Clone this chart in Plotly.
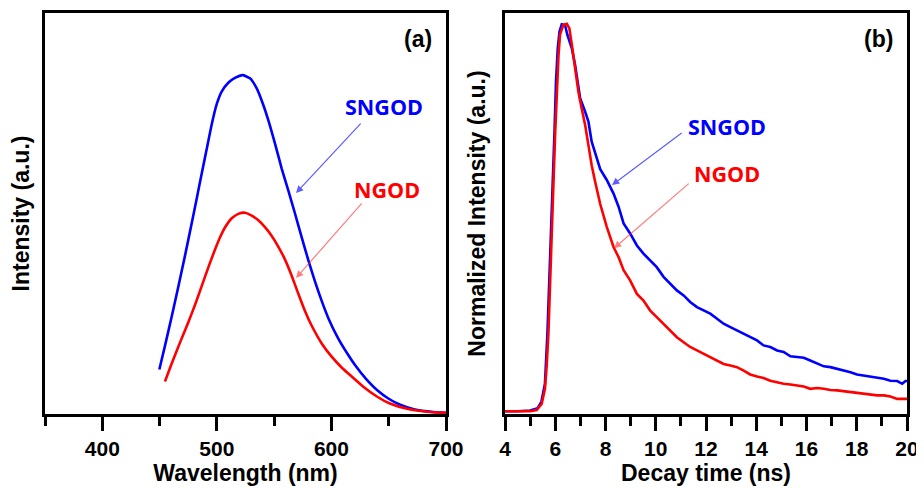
import plotly.graph_objects as go

# ---------------- Panel (a): PL spectra ----------------
wl_sngod = [449.8, 454.7, 460.6, 466.4, 472.2, 478.0, 482.4, 486.8, 491.1, 495.5, 499.8, 504.2,
            510.0, 515.8, 522.5, 528.9, 534.8, 540.0, 544.9, 550.7, 556.6, 562.4, 568.2, 574.0,
            579.8, 585.7, 591.5, 597.3, 606.0, 614.7, 620.6, 630.0, 640.0, 650.0, 660.0, 672.0,
            689.0, 700.0]
int_sngod = [0.111, 0.170, 0.243, 0.318, 0.395, 0.475, 0.537, 0.600, 0.660, 0.722, 0.772, 0.804,
             0.826, 0.838, 0.845, 0.837, 0.812, 0.775, 0.733, 0.675, 0.612, 0.557, 0.500, 0.441,
             0.384, 0.330, 0.282, 0.239, 0.188, 0.147, 0.122, 0.088, 0.059, 0.038, 0.023, 0.012,
             0.005, 0.003]

wl_ngod = [454.7, 460.6, 467.8, 475.1, 480.9, 485.3, 489.6, 494.0, 498.4, 502.7, 507.1, 513.0,
           518.7, 524.6, 530.4, 536.2, 542.0, 547.9, 553.7, 559.5, 565.3, 571.1, 576.9, 582.8,
           591.5, 600.2, 608.9, 614.7, 627.8, 640.0, 651.0, 666.0, 686.0, 700.0]
int_ngod = [0.081, 0.126, 0.178, 0.229, 0.272, 0.307, 0.342, 0.377, 0.410, 0.440, 0.465, 0.488,
            0.499, 0.502, 0.495, 0.483, 0.466, 0.444, 0.417, 0.385, 0.345, 0.300, 0.257, 0.220,
            0.176, 0.143, 0.116, 0.101, 0.068, 0.043, 0.026, 0.013, 0.005, 0.003]

# ---------------- Panel (b): PL decay ----------------
t_sngod = [4.0, 4.5, 5.0, 5.3, 5.45, 5.59, 5.69, 5.77, 5.83, 5.90, 5.97, 6.03, 6.10, 6.17, 6.26, 6.39,
           6.48, 6.66, 6.79, 6.99, 7.19, 7.32, 7.45, 7.65, 7.79, 8.05, 8.32, 8.52, 8.72, 8.98,
           9.25, 9.51, 9.78, 10.04, 10.31, 10.58, 10.84, 11.11, 11.37, 11.64, 11.90, 12.17,
           12.44, 12.70, 12.97, 13.23, 13.50, 13.76, 14.03, 14.29, 14.56, 14.83, 15.09, 15.36,
           15.62, 15.89, 16.15, 16.42, 16.69, 16.95, 17.22, 17.48, 17.75, 18.01, 18.28, 18.55,
           18.81, 19.08, 19.34, 19.61, 19.81, 19.94, 20.0]
n_sngod = [0.0, 0.0, 0.002, 0.008, 0.025, 0.071, 0.204, 0.334, 0.463, 0.592, 0.722, 0.851, 0.937,
           0.980, 0.999, 0.997, 0.972, 0.937, 0.894, 0.808, 0.773, 0.748, 0.696, 0.653, 0.625,
           0.597, 0.562, 0.528, 0.485, 0.459, 0.428, 0.407, 0.390, 0.372, 0.347, 0.329, 0.312,
           0.299, 0.282, 0.269, 0.260, 0.252, 0.239, 0.226, 0.217, 0.209, 0.200, 0.191, 0.183,
           0.170, 0.166, 0.157, 0.153, 0.142, 0.140, 0.138, 0.131, 0.123, 0.116, 0.114, 0.110,
           0.105, 0.101, 0.095, 0.092, 0.090, 0.086, 0.084, 0.079, 0.078, 0.071, 0.078, 0.078]

t_ngod = [4.0, 4.5, 5.0, 5.26, 5.46, 5.59, 5.66, 5.73, 5.79, 5.86, 5.93, 6.00, 6.06, 6.13, 6.19,
          6.32, 6.46, 6.56, 6.66, 6.79, 6.92, 7.05, 7.19, 7.32, 7.45, 7.59, 7.79, 8.05, 8.32,
          8.52, 8.72, 8.98, 9.25, 9.51, 9.78, 10.04, 10.31, 10.58, 10.84, 11.11, 11.37, 11.64,
          11.90, 12.17, 12.44, 12.70, 12.97, 13.23, 13.50, 13.76, 14.03, 14.29, 14.56, 14.83,
          15.09, 15.36, 15.62, 15.89, 16.15, 16.42, 16.69, 16.95, 17.22, 17.48, 17.75, 18.01,
          18.28, 18.55, 18.81, 19.08, 19.34, 19.61, 19.94, 20.0]
n_ngod = [0.0, 0.0, 0.0, 0.003, 0.019, 0.058, 0.118, 0.204, 0.334, 0.463, 0.592, 0.722, 0.834,
          0.920, 0.972, 0.997, 1.000, 0.989, 0.946, 0.885, 0.825, 0.782, 0.739, 0.687, 0.635,
          0.592, 0.535, 0.476, 0.424, 0.398, 0.364, 0.338, 0.303, 0.286, 0.260, 0.243, 0.226,
          0.209, 0.191, 0.178, 0.166, 0.157, 0.148, 0.140, 0.131, 0.122, 0.118, 0.114, 0.105,
          0.095, 0.090, 0.086, 0.079, 0.075, 0.071, 0.069, 0.066, 0.064, 0.058, 0.060, 0.058,
          0.055, 0.054, 0.052, 0.049, 0.047, 0.045, 0.043, 0.041, 0.041, 0.038, 0.032, 0.032,
          0.032]

BLUE = "#0000FF"
RED = "#FF0000"
LINE_W = 2.6
AXFONT = "Liberation Sans, Arial, sans-serif"
LBLFONT = "Open Sans, sans-serif"

fig = go.Figure()
fig.add_trace(go.Scatter(x=wl_sngod, y=int_sngod, mode="lines",
                         line=dict(color=BLUE, width=LINE_W, shape="spline", smoothing=0.5),
                         xaxis="x", yaxis="y", showlegend=False))
fig.add_trace(go.Scatter(x=wl_ngod, y=int_ngod, mode="lines",
                         line=dict(color=RED, width=LINE_W, shape="spline", smoothing=0.5),
                         xaxis="x", yaxis="y", showlegend=False))
fig.add_trace(go.Scatter(x=t_sngod, y=n_sngod, mode="lines", line=dict(color=BLUE, width=LINE_W),
                         xaxis="x2", yaxis="y2", showlegend=False))
fig.add_trace(go.Scatter(x=t_ngod, y=n_ngod, mode="lines", line=dict(color=RED, width=LINE_W),
                         xaxis="x2", yaxis="y2", showlegend=False))

# page has an 8px body margin, so the figure is sized to fill the rest of the window
OFF = 8
W, H = 924 - OFF, 489 - OFF


def fx(px):
    return (px - OFF) / W


def fy(py):
    return 1 - (py - OFF) / H


ydom = [fy(414), fy(13)]

common_x = dict(showline=True, linecolor="black", linewidth=3, mirror=True, ticks="outside",
                ticklen=14, tickwidth=3, tickcolor="black", showgrid=False, zeroline=False,
                tickfont=dict(family=AXFONT, size=21, color="black", weight="bold"),
                title_font=dict(family=AXFONT, size=23, color="black", weight="bold"),
                automargin=False)
common_y = dict(showline=True, linecolor="black", linewidth=3, mirror=True, ticks="",
                showticklabels=False, showgrid=False, zeroline=False,
                title_font=dict(family=AXFONT, size=23, color="black", weight="bold"),
                automargin=False)

fig.update_layout(
    width=W, height=H, margin=dict(l=0, r=0, t=0, b=0),
    paper_bgcolor="white", plot_bgcolor="white",
    xaxis=dict(domain=[fx(45), fx(446)], range=[350, 700], tickvals=[400, 500, 600, 700],
               minor=dict(tickvals=[350, 450, 550, 650], ticklen=9, tickwidth=3, tickcolor="black", ticks="outside"),
               title=dict(text="Wavelength (nm)", standoff=4), anchor="y", **common_x),
    yaxis=dict(domain=ydom, range=[0, 1.0], title=dict(text="Intensity (a.u.)", standoff=8),
               anchor="x", **common_y),
    xaxis2=dict(domain=[fx(505), fx(907)], range=[4, 20], tickvals=[4, 6, 8, 10, 12, 14, 16, 18, 20],
                minor=dict(tickvals=[5, 7, 9, 11, 13, 15, 17, 19], ticklen=9, tickwidth=3, tickcolor="black", ticks="outside"),
                title=dict(text="Decay time (ns)", standoff=4), anchor="y2", **common_x),
    yaxis2=dict(domain=ydom, range=[-0.007, 1.028], title=dict(text="Normalized Intensity (a.u.)", standoff=10),
                anchor="x2", **common_y),
)

ann = []
# panel labels
ann.append(dict(x=0.97, y=0.935, xref="x domain", yref="y domain", text="<b>(a)</b>", showarrow=False,
                font=dict(family=AXFONT, size=23, color="black"), xanchor="right", yanchor="middle"))
ann.append(dict(x=0.97, y=0.935, xref="x2 domain", yref="y2 domain", text="<b>(b)</b>", showarrow=False,
                font=dict(family=AXFONT, size=23, color="black"), xanchor="right", yanchor="middle"))
# series labels
ann.append(dict(x=645.9, y=0.766, xref="x", yref="y", text="<b>SNGOD</b>", showarrow=False,
                font=dict(family=LBLFONT, size=21.5, color=BLUE)))
ann.append(dict(x=648.9, y=0.559, xref="x", yref="y", text="<b>NGOD</b>", showarrow=False,
                font=dict(family=LBLFONT, size=21.5, color=RED)))
ann.append(dict(x=12.83, y=0.736, xref="x2", yref="y2", text="<b>SNGOD</b>", showarrow=False,
                font=dict(family=LBLFONT, size=21.5, color=BLUE)))
ann.append(dict(x=12.83, y=0.615, xref="x2", yref="y2", text="<b>NGOD</b>", showarrow=False,
                font=dict(family=LBLFONT, size=21.5, color=RED)))
# arrows (tail -> head)
arrows = [
    ("x", "y", 626.7, 0.728, 569.1, 0.551, "rgba(40,40,255,0.75)"),
    ("x", "y", 627.6, 0.529, 569.1, 0.339, "rgba(255,40,40,0.6)"),
    ("x2", "y2", 11.09, 0.721, 8.26, 0.584, "rgba(40,40,255,0.75)"),
    ("x2", "y2", 11.37, 0.591, 8.34, 0.421, "rgba(255,40,40,0.6)"),
]
for xr, yr, tx, ty, hx, hy, col in arrows:
    ann.append(dict(x=hx, y=hy, ax=tx, ay=ty, xref=xr, yref=yr, axref=xr, ayref=yr, text="",
                    showarrow=True, arrowhead=2, arrowsize=1.2, arrowwidth=1.2, arrowcolor=col))
fig.update_layout(annotations=ann)

fig.write_html("out.html")
